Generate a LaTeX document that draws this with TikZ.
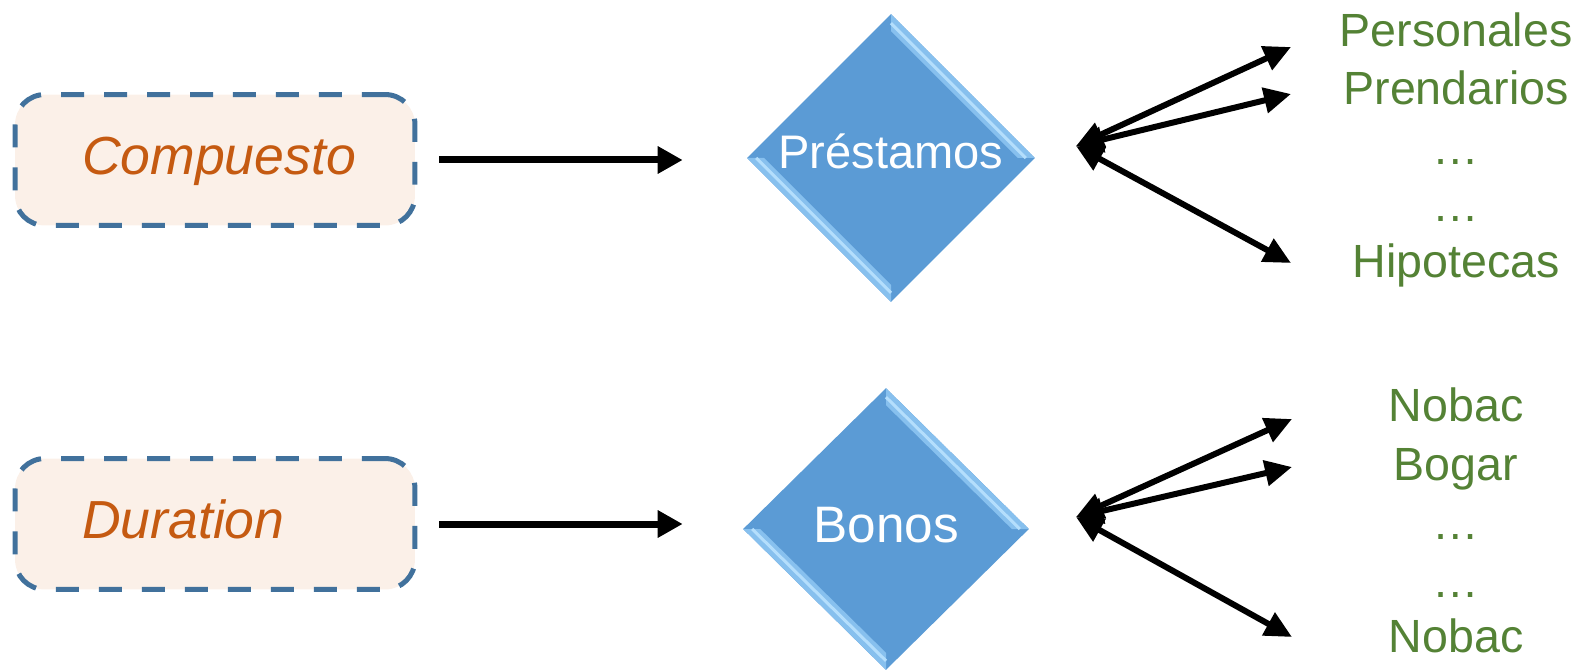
\documentclass[tikz,border=0pt]{standalone}
\usepackage{fontspec}
\setmainfont{Liberation Sans}
\usetikzlibrary{arrows.meta, positioning, shapes.geometric, calc}
\definecolor{boxFill}{RGB}{251,240,232}
\definecolor{boxLine}{RGB}{65,113,156}
\definecolor{boxText}{RGB}{197,90,17}
\definecolor{diaFill}{RGB}{91,155,213}
\definecolor{diaLight}{RGB}{135,192,238}
\definecolor{diaShine}{RGB}{180,222,252}
\definecolor{leafColor}{RGB}{84,130,53}

\begin{document}
\begin{tikzpicture}[
    x=0.02cm, y=-0.02cm,
    box/.style={draw=boxLine, line width=0.1cm, dash pattern=on 0.46cm off 0.4cm, fill=boxFill, rounded corners=0.6cm, minimum width=8cm, minimum height=2.62cm, text width=5.32cm, inner xsep=1.34cm, align=left, text height=21pt, text depth=5pt, text=boxText, font=\fontsize{30.5}{36}\selectfont\itshape},
    dia/.style={diamond, aspect=1, fill=diaFill, minimum width=5.76cm, minimum height=5.76cm, inner sep=0pt, text=white, text height=15pt, text depth=3pt,
        path picture={
            % bevel on the upper right and lower left edges
            \fill[diaLight] (path picture bounding box.north) -- (path picture bounding box.east) -- ($(path picture bounding box.east)+(-17,0)$) -- ($(path picture bounding box.north)+(0,17)$) -- cycle;
            \fill[diaLight] (path picture bounding box.west) -- (path picture bounding box.south) -- ($(path picture bounding box.south)+(0,-17)$) -- ($(path picture bounding box.west)+(17,0)$) -- cycle;
            \draw[diaShine, line width=0.06cm] ($(path picture bounding box.north)+(0,9)$) -- ($(path picture bounding box.east)+(-9,0)$);
            \draw[diaShine, line width=0.06cm] ($(path picture bounding box.west)+(9,0)$) -- ($(path picture bounding box.south)+(0,-9)$);
        }},
    leaf/.style={anchor=base, inner sep=0pt, text=leafColor, font=\fontsize{26.5}{30}\selectfont},
    flow/.style={-{Triangle[length=0.5cm, width=0.52cm]}, line width=0.14cm},
    fan/.style={{Triangle[length=0.54cm, width=0.5cm]}-{Triangle[length=0.54cm, width=0.5cm]}, line width=0.12cm}
]
\useasboundingbox (0,0) rectangle (1581,672);

% Left boxes
\node[box] (comp) at (215,160) {Compuesto};
\node[box] (dur) at (215,524) {Duration};

% Diamonds
\node[dia, font=\fontsize{26.8}{30}\selectfont] (prest) at (891,158) {Préstamos};
\node[dia, minimum width=5.72cm, minimum height=5.64cm, text height=18pt, font=\fontsize{29.2}{34}\selectfont] (bonos) at (886,529) {Bonos};

% Right hand lists
\node[leaf] (personales) at (1456,47) {Personales};
\node[leaf] (prendarios) at (1456,105) {Prendarios};
\node[leaf] (dotsA) at (1456,165) {…};
\node[leaf] (dotsB) at (1456,221) {…};
\node[leaf] (hipotecas) at (1456,277) {Hipotecas};

\node[leaf] (nobacA) at (1456,421) {Nobac};
\node[leaf] (bogar) at (1456,480) {Bogar};
\node[leaf] (dotsC) at (1456,539) {…};
\node[leaf] (dotsD) at (1456,597) {…};
\node[leaf] (nobacB) at (1456,652) {Nobac};

% Fan points
\coordinate (pfan) at (1076,146);
\coordinate (ptip1) at (1291,47);
\coordinate (ptip2) at (1291,94);
\coordinate (ptip3) at (1291,263);
\coordinate (bfan) at (1076,517);
\coordinate (btip1) at (1292,419);
\coordinate (btip2) at (1292,467);
\coordinate (btip3) at (1292,637);

% Connections
\draw[flow, shorten <=0.44cm, shorten >=1.28cm] (comp.east) -- (comp.east -| prest.west);
\draw[flow, shorten <=0.44cm, shorten >=1.2cm] (dur.east) -- (dur.east -| bonos.west);
\foreach \i in {1,2,3} {
    \draw[fan] (pfan) -- (ptip\i);
    \draw[fan] (bfan) -- (btip\i);
}

\end{tikzpicture}
\end{document}
